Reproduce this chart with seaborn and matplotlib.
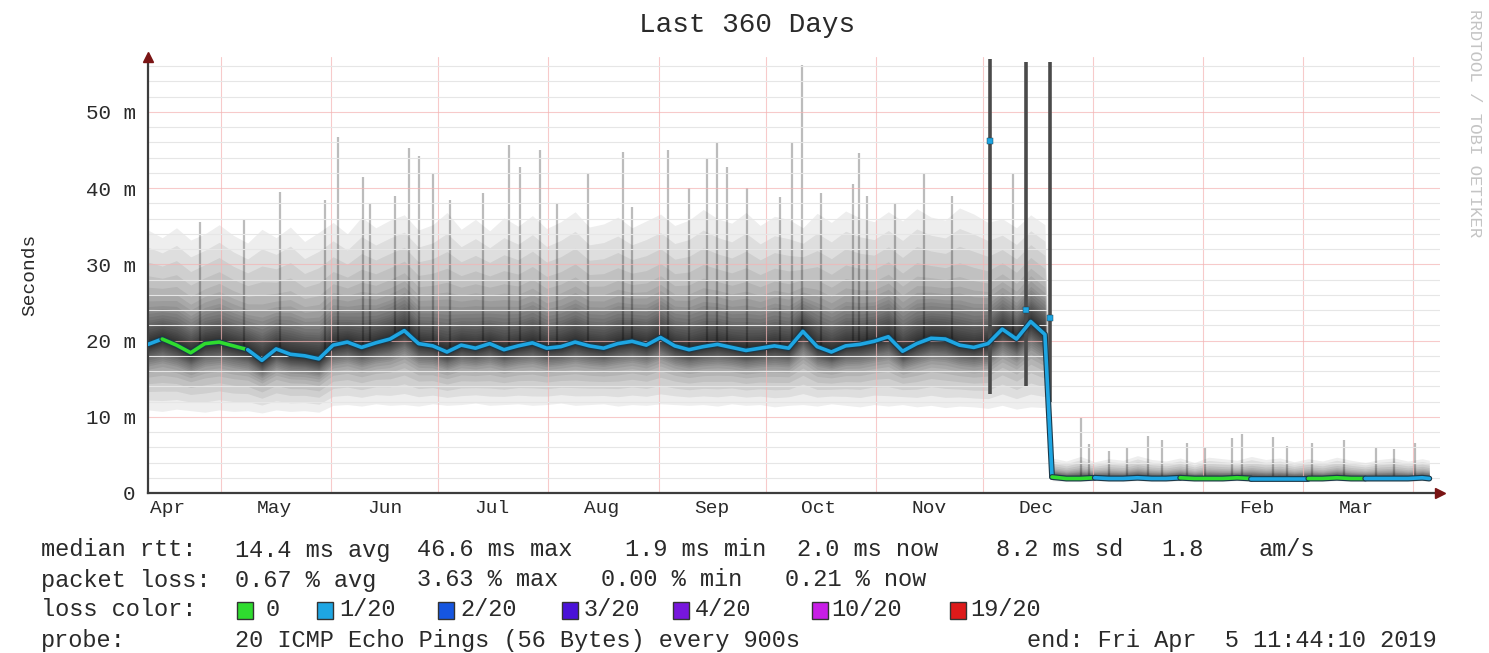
import numpy as np
import pandas as pd
import seaborn as sns
import matplotlib.pyplot as plt
import matplotlib.patheffects as pe
from matplotlib.patches import Rectangle
from matplotlib.ticker import MultipleLocator, FuncFormatter, NullFormatter

# ---- data (values in ms) ----
end = pd.Timestamp("2019-04-05 11:44:10")
start = end - pd.Timedelta(days=360)

# sample days (days since start), before and after the drop in mid December
days_pre = list(range(0, 253, 4))
days_post = list(range(254, 359, 4)) + [360]

median_pre = [19.5, 20.2, 19.4, 18.4, 19.6, 19.8, 19.3, 18.8, 17.4, 18.9, 18.2, 18.0, 17.6,
              19.4, 19.8, 19.1, 19.7, 20.2, 21.3, 19.6, 19.3, 18.5, 19.4, 19.0, 19.6, 18.8,
              19.3, 19.7, 19.0, 19.2, 19.8, 19.3, 19.0, 19.6, 19.9, 19.4, 20.4, 19.3, 18.8,
              19.2, 19.5, 19.1, 18.7, 19.0, 19.3, 19.0, 21.2, 19.2, 18.5, 19.3, 19.5, 19.9,
              20.5, 18.6, 19.6, 20.3, 20.2, 19.4, 19.1, 19.6, 21.5, 20.2, 22.5, 20.8]
lo_pre = [10.9, 10.7, 11.0, 10.8, 10.6, 10.9, 10.7, 10.8, 10.5, 10.9, 10.7, 10.8, 10.6,
          11.5, 11.6, 11.4, 11.7, 11.5, 11.6, 11.4, 11.7, 11.5, 11.6, 11.8, 11.5, 11.6,
          11.7, 11.5, 11.6, 11.8, 11.5, 11.6, 11.7, 11.4, 11.6, 11.5, 11.7, 11.6, 11.5,
          11.6, 11.4, 11.7, 11.5, 11.6, 11.3, 11.5, 11.6, 11.4, 11.7, 11.5, 11.3, 11.6,
          11.4, 11.6, 11.3, 11.5, 11.2, 11.4, 11.3, 11.1, 11.5, 11.0, 11.3, 11.2]
hi_pre = [34.5, 33.5, 34.8, 33.2, 34.0, 35.2, 33.8, 32.8, 34.6, 33.5, 34.9, 33.0, 34.2,
          35.5, 34.0, 36.2, 34.8, 35.8, 36.5, 34.5, 35.2, 36.8, 34.6, 35.9, 34.4, 36.1,
          35.0, 36.4, 34.7, 35.6, 36.9, 34.9, 35.3, 36.2, 34.8, 35.7, 36.6, 35.1, 35.8,
          37.2, 36.0, 35.4, 36.8, 35.1, 36.3, 35.9, 34.8, 36.7, 35.5, 37.0, 36.1, 35.6,
          36.9, 35.7, 37.3, 36.2, 35.8, 37.4, 36.6, 35.5, 36.0, 34.8, 36.5, 35.2]
# loss index per sample: 0 -> 0/20, 1 -> 1/20
loss_pre = [1] + [0] * 6 + [1] * 57

median_post = [2.1, 1.9, 1.9, 2.0, 1.9, 1.9, 2.0, 1.9, 1.9, 2.0, 1.9, 1.9, 1.9, 2.0,
               1.9, 1.9, 1.9, 1.9, 1.9, 1.9, 2.0, 1.9, 1.9, 1.9, 1.9, 1.9, 2.0, 1.9]
lo_post = [1.6, 1.5, 1.5, 1.6, 1.5, 1.5, 1.6, 1.5, 1.5, 1.6, 1.5, 1.5, 1.5, 1.6,
           1.5, 1.5, 1.5, 1.5, 1.5, 1.5, 1.6, 1.5, 1.5, 1.5, 1.5, 1.5, 1.6, 1.5]
hi_post = [4.6, 4.2, 4.8, 4.1, 4.5, 4.3, 4.9, 4.4, 4.2, 4.6, 4.0, 4.7, 4.5, 4.3,
           4.8, 4.4, 4.6, 4.1, 4.5, 4.2, 4.7, 4.3, 4.0, 4.4, 4.6, 4.2, 4.5, 4.3]
loss_post = [0, 0, 0, 1, 1, 1, 1, 1, 1, 0, 0, 0, 0, 0, 1, 1, 1, 1, 0, 0, 0, 0, 1, 1, 1, 1, 1, 1]

# single-ping outliers (day, max rtt)
spike_day = [14.6, 27, 37, 49.7, 53.4, 60.4, 62.3, 69.4, 73.3, 76.1, 80, 84.8, 94, 101.4,
             104.5, 110, 115, 123.6, 133.4, 136, 146, 152, 157, 159.8, 162.6, 168.2, 177.5,
             181, 183.7, 189, 198, 199.7, 202, 210, 218, 226, 243,
             262, 264.5, 270, 275, 281, 285, 292, 297, 304.7, 307.5, 316, 320, 327, 336,
             345, 350, 356]
spike_top = [35.5, 36.0, 39.5, 38.4, 46.7, 41.5, 38.0, 39.0, 45.2, 44.2, 42.0, 38.4, 39.3, 45.6,
             42.8, 45.0, 38.0, 42.0, 44.7, 37.5, 45.0, 40.0, 44.0, 46.0, 42.8, 40.0, 38.8,
             46.0, 56.2, 39.3, 40.6, 44.6, 39.0, 38.0, 42.0, 39.0, 42.0,
             9.8, 6.4, 5.5, 5.9, 7.5, 6.9, 6.6, 6.0, 7.2, 7.7, 7.4, 6.2, 6.6, 7.0,
             6.0, 5.8, 6.6]

# short periods where the whole ping spread went high
event_day = [236.5, 246.8, 253.3]
event_lo = [13.0, 14.0, 12.0]
event_top = [57.0, 56.5, 56.5]
event_median = [46.2, 24.0, 23.0]

loss_labels = ["0", "1/20", "2/20", "3/20", "4/20", "10/20", "19/20"]
loss_colors = ["#2fdc2f", "#1ea6e3", "#1656e0", "#4a12d8", "#7716dc", "#c81ee6", "#dd1a1a"]

# ---- figure ----
W, H = 1489, 653
sns.set_style("white")
plt.rcParams["font.family"] = ["Liberation Mono", "DejaVu Sans Mono"]
txt = "#2a2a2a"

fig = plt.figure(figsize=(W / 100, H / 100), dpi=100)
ax = fig.add_axes([148 / W, 1 - 493 / H, (1440 - 148) / W, (493 - 57) / H])

days = np.array(days_pre + days_post, dtype=float)
med = np.array(median_pre + median_post)
lo = np.array(lo_pre + lo_post)
hi = np.array(hi_pre + hi_post)
loss = loss_pre + loss_post

# outliers first, the smoke layers darken them where they overlap
base = np.interp(spike_day, days, med)
ax.vlines(spike_day, base, spike_top, color="#bcbcbc", lw=1.6, zorder=1.1)

# smoke: many faint stacked bands, densest around the median
fracs = [1.0, 0.85, 0.72, 0.6, 0.5, 0.43, 0.38, 0.33, 0.3, 0.27, 0.24, 0.21,
         0.19, 0.17, 0.15, 0.13, 0.11, 0.095, 0.08, 0.065, 0.05, 0.04, 0.03, 0.02]
for f in fracs:
    ax.fill_between(days, med - f * (med - lo), med + f * (hi - med),
                    color="black", alpha=0.065, lw=0, zorder=1.2)

ax.vlines(event_day, event_lo, event_top, color="#4a4a4a", lw=2.6, zorder=2.2)

# median line, coloured by loss
df = pd.DataFrame({"day": days, "median": med, "loss": loss})
run_id = (df["loss"] != df["loss"].shift()).cumsum()
outline = [pe.Stroke(linewidth=4.2, foreground="#1d3a4a"), pe.Normal()]
for _, grp in df.groupby(run_id):
    i0, i1 = grp.index[0], min(grp.index[-1] + 1, len(df) - 1)
    seg = df.loc[i0:i1]
    sns.lineplot(data=seg, x="day", y="median", ax=ax, color=loss_colors[grp["loss"].iloc[0]],
                 lw=2.6, estimator=None, sort=False, legend=False, zorder=5, path_effects=outline)
sns.scatterplot(x=event_day, y=event_median, ax=ax, color=loss_colors[1], marker="s",
                s=16, edgecolor="#1d3a4a", legend=False, zorder=6)

# ---- axes ----
xmax, ymax = 363, 57.2
ax.set_xlim(0, xmax)
ax.set_ylim(0, ymax)

month_starts = pd.date_range("2018-05-01", "2019-04-01", freq="MS")
ax.set_xticks([(m - start) / pd.Timedelta(days=1) for m in month_starts])
ax.xaxis.set_major_formatter(NullFormatter())
label_dates = pd.date_range("2018-04-01", "2019-03-01", freq="MS") + pd.Timedelta(days=15)
ax.set_xticks([(d - start) / pd.Timedelta(days=1) for d in label_dates],
              labels=[d.strftime("%b") for d in label_dates], minor=True)
ax.tick_params(axis="x", which="both", length=0, pad=5, labelsize=14, colors=txt)

ax.set_yticks(range(0, 51, 10))
ax.yaxis.set_minor_locator(MultipleLocator(2))
ax.yaxis.set_major_formatter(FuncFormatter(lambda v, p: "0" if v == 0 else f"{int(v)} m"))
ax.tick_params(axis="y", which="major", length=5, width=1.2, color="#444444",
               labelsize=15, pad=4, labelcolor=txt)
ax.tick_params(axis="y", which="minor", length=0)

ax.set_axisbelow("line")
ax.grid(which="major", color="#f4b4b4", lw=0.8, alpha=0.7)
ax.grid(which="minor", axis="y", color="#e6e6e6", lw=0.8)

for side in ["top", "right"]:
    ax.spines[side].set_visible(False)
for side in ["left", "bottom"]:
    ax.spines[side].set_color("#3c3c3c")
    ax.spines[side].set_linewidth(1.6)
ax.plot([xmax], [0], marker=">", color="#7a1414", ms=7, clip_on=False, zorder=7)
ax.plot([0], [ymax], marker="^", color="#7a1414", ms=7, clip_on=False, zorder=7)
ax.set_xlabel("")
ax.set_ylabel("")

# ---- texts around the graph ----
def ptext(x, y, s, **kw):
    kw.setdefault("color", txt)
    kw.setdefault("fontsize", 17)
    kw.setdefault("va", "center")
    fig.text(x / W, 1 - y / H, s, **kw)

ptext(747, 25, "Last 360 Days", ha="center", fontsize=20)
ptext(30, 275, "Seconds", ha="center", rotation=90, fontsize=14)
ptext(1475, 123, "RRDTOOL / TOBI OETIKER", ha="center", rotation=270,
      fontsize=12.5, color="#c4c4c4")

for s, x in [("median rtt:", 41), ("14.4 ms avg", 235), ("46.6 ms max", 417),
             ("1.9 ms min", 625), ("2.0 ms now", 797), ("8.2 ms sd", 996),
             ("1.8", 1161), ("am/s", 1259)]:
    ptext(x, 550, s)
for s, x in [("packet loss:", 41), ("0.67 % avg", 235), ("3.63 % max", 417),
             ("0.00 % min", 601), ("0.21 % now", 785)]:
    ptext(x, 580, s)
ptext(41, 610, "loss color:")
box_x = [237, 317, 438, 562, 673, 812, 950]
label_x = [266, 339, 460, 584, 695, 831, 970]
for lab, col, bx, lx in zip(loss_labels, loss_colors, box_x, label_x):
    fig.add_artist(Rectangle((bx / W, 1 - 619 / H), 16 / W, 17 / H, transform=fig.transFigure,
                             facecolor=col, edgecolor="#333333", lw=1))
    ptext(lx, 610, lab)
ptext(41, 640, "probe:")
ptext(235, 640, "20 ICMP Echo Pings (56 Bytes) every 900s")
ptext(1027, 640, "end: Fri Apr  5 11:44:10 2019")

fig.savefig("out.png", dpi=100)
